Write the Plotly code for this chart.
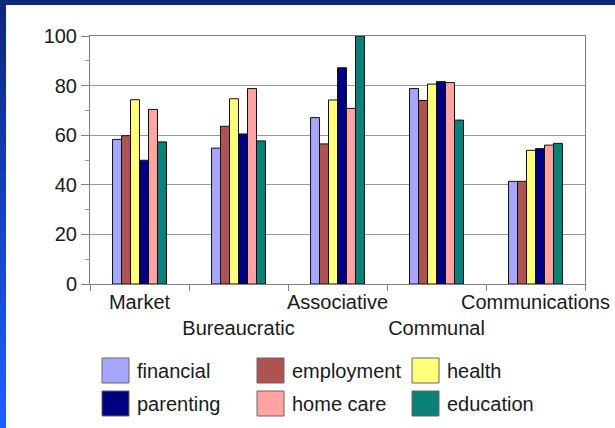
import plotly.graph_objects as go

# Service sectors (x categories) and need areas (series)
sectors = ["Market", "Bureaucratic", "Associative", "Communal", "Communications"]
series_names = ["financial", "employment", "health", "parenting", "home care", "education"]

financial = [58.3, 54.8, 67.1, 78.8, 41.4]
employment = [59.8, 63.6, 56.5, 74.0, 41.4]
health = [74.3, 74.7, 74.2, 80.6, 53.9]
parenting = [49.9, 60.5, 87.2, 81.6, 54.6]
home_care = [70.4, 78.8, 70.8, 81.2, 56.0]
education = [57.3, 57.7, 100.0, 66.1, 56.7]

series_values = [financial, employment, health, parenting, home_care, education]
series_colors = ["#A6A6FF", "#AE5252", "#FFFF7A", "#000080", "#FFA3A3", "#0B8078"]

y_ticks = [0, 20, 40, 60, 80, 100]

W, H = 615, 428
ML, MR, MT, MB = 90, 30, 36, 144
PW, PH = W - ML - MR, H - MT - MB

FONT = "Liberation Sans, Arial, sans-serif"
TEXT = "#1a1a1a"
GRID = "#9a9a9a"


def px_x(px):
    return (px - ML) / PW


def px_y(py):
    return (H - MB - py) / PH


fig = go.Figure()
for name, vals, col in zip(series_names, series_values, series_colors):
    fig.add_trace(go.Bar(
        name=name, x=sectors, y=vals,
        marker=dict(color=col, line=dict(color="#111111", width=1)),
        showlegend=False,
    ))

# staggered category labels: every second one drops to a second line
tick_labels = [s if i % 2 == 0 else "<br>" + s for i, s in enumerate(sectors)]

shapes = []
annotations = []

# slide frame: navy band on top, blue gradient band on the left
shapes.append(dict(type="rect", xref="paper", yref="paper",
                   x0=px_x(0), x1=px_x(W), y0=px_y(5), y1=px_y(0),
                   fillcolor="#0B2A7E", line=dict(width=0), layer="above"))
n_steps = 40
top_rgb = (12, 40, 125)
bot_rgb = (30, 95, 255)
for i in range(n_steps):
    t = i / (n_steps - 1)
    r, g, b = (int(round(a + (c - a) * t)) for a, c in zip(top_rgb, bot_rgb))
    y_top = 5 + (H - 5) * i / n_steps
    y_bot = 5 + (H - 5) * (i + 1) / n_steps + 0.6
    shapes.append(dict(type="rect", xref="paper", yref="paper",
                       x0=px_x(0), x1=px_x(6), y0=px_y(y_bot), y1=px_y(y_top),
                       fillcolor=f"rgb({r},{g},{b})", line=dict(width=0), layer="above"))

# legend: 3 columns x 2 rows, large swatches
col_swatch_x = [102, 257, 412]
row_center_y = [370.5, 403.5]
sw, sh = 27, 25
for k, (name, col) in enumerate(zip(series_names, series_colors)):
    r, c = divmod(k, 3)
    x0 = col_swatch_x[c]
    yc = row_center_y[r]
    shapes.append(dict(type="rect", xref="paper", yref="paper",
                       x0=px_x(x0), x1=px_x(x0 + sw),
                       y0=px_y(yc + sh / 2), y1=px_y(yc - sh / 2),
                       fillcolor=col, line=dict(color="#666666", width=1)))
    annotations.append(dict(xref="paper", yref="paper",
                            x=px_x(x0 + sw + 6), y=px_y(yc),
                            xanchor="left", yanchor="middle", showarrow=False,
                            text=name, font=dict(family=FONT, size=20, color=TEXT)))

fig.update_layout(
    width=W, height=H,
    margin=dict(l=ML, r=MR, t=MT, b=MB, pad=0, autoexpand=False),
    paper_bgcolor="white", plot_bgcolor="white",
    barmode="group", bargap=0.455, bargroupgap=0,
    font=dict(family=FONT, size=19.5, color=TEXT),
    shapes=shapes, annotations=annotations,
    showlegend=False,
)

fig.update_xaxes(
    type="category", automargin=False, tickangle=0,
    tickmode="array", tickvals=sectors, ticktext=tick_labels,
    tickson="boundaries", ticks="outside", ticklen=6, tickcolor="#808080",
    showline=True, linecolor="#808080", linewidth=1, mirror=True,
    showgrid=False, zeroline=False,
    tickfont=dict(family=FONT, size=20, color=TEXT),
)

fig.update_yaxes(
    range=[0, 100], tickmode="array", tickvals=y_ticks, automargin=False,
    ticks="outside", ticklen=8, tickcolor="#808080",
    minor=dict(dtick=10, ticks="outside", ticklen=4, tickcolor="#999999", showgrid=False),
    showline=True, linecolor="#808080", linewidth=1, mirror=True,
    showgrid=True, gridcolor=GRID, gridwidth=1, zeroline=False,
    tickfont=dict(family=FONT, size=20, color=TEXT),
)

fig.write_html("out.html")
